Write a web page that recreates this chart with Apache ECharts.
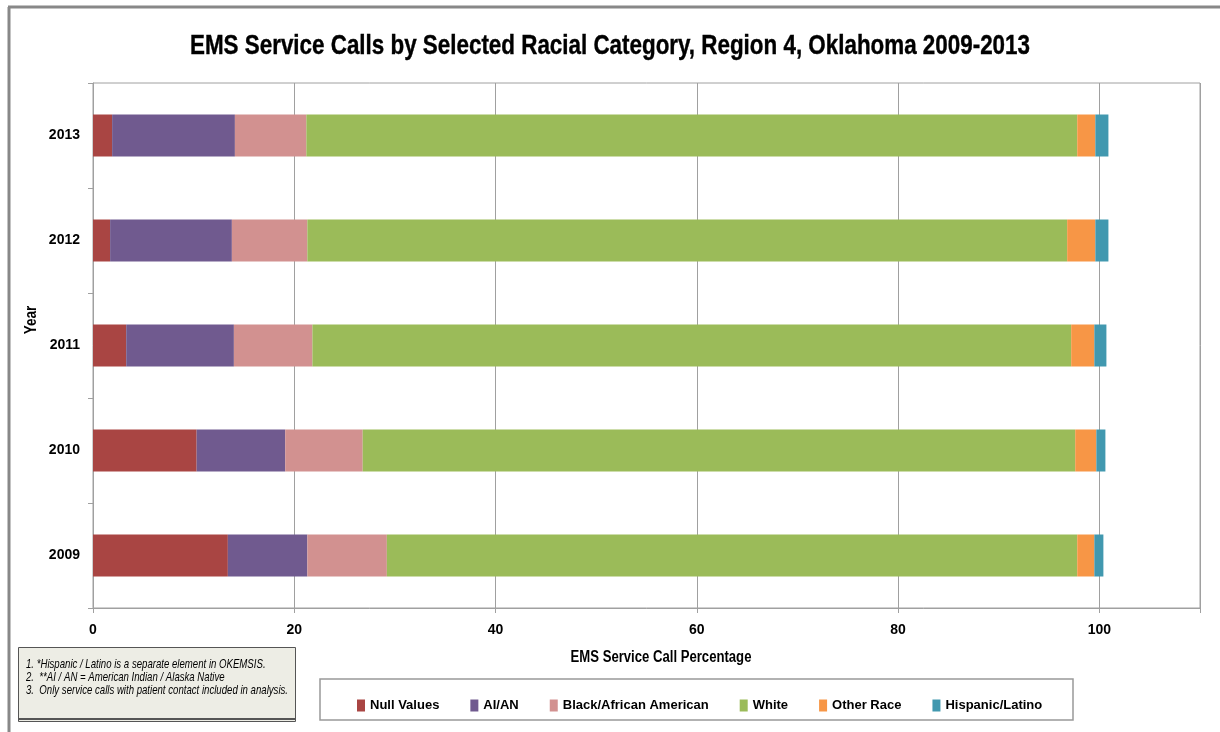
<!DOCTYPE html>
<html><head><meta charset="utf-8">
<script src="https://cdn.jsdelivr.net/npm/echarts@6/dist/echarts.min.js"></script>
<style>html,body{margin:0;padding:0;background:#fff}#c{width:1220px;height:732px}</style>
</head><body><div id="c"></div>
<script>
const years = ['2009','2010','2011','2012','2013'];
const nullValues = [13.4, 10.3, 3.3, 1.7, 1.9];
const aian       = [7.9, 8.8, 10.7, 12.1, 12.2];
const black      = [7.9, 7.7, 7.8, 7.5, 7.1];
const white      = [68.6, 70.8, 75.4, 75.5, 76.6];
const otherRace  = [1.7, 2.1, 2.3, 2.8, 1.8];
const hispanic   = [0.9, 0.9, 1.2, 1.3, 1.3];
const xTicks = [0, 20, 40, 60, 80, 100];
const seriesNames = ['Null Values','AI/AN','Black/African American','White','Other Race','Hispanic/Latino'];
const colors = ['#A94543','#705A8F','#D29190','#9BBB59','#F79646','#4198AF'];
const titleText = 'EMS Service Calls by Selected Racial Category, Region 4, Oklahoma 2009-2013';
const footnotes = ['1. *Hispanic / Latino is a separate element in OKEMSIS.','2.  **AI / AN = American Indian / Alaska Native','3.  Only service calls with patient contact included in analysis.'];

const F = '"Liberation Sans", Arial, sans-serif';
const chart = echarts.init(document.getElementById('c'), null, {renderer:'canvas'});
const dataSets = [nullValues, aian, black, white, otherRace, hispanic];
const series = seriesNames.map((n,i)=>({
  name:n, type:'bar', stack:'total', barWidth:'40%', data:dataSets[i],
  itemStyle:{color:colors[i]}, emphasis:{disabled:true}
}));
chart.setOption({
  animation:false,
  backgroundColor:'#fff',
  color:colors,
  grid:{left:93, right:20, top:83, bottom:124, show:true, borderColor:'#a0a0a0', borderWidth:1, backgroundColor:'transparent'},
  legend:{left:352, top:694, itemWidth:8, itemHeight:12, itemGap:31, icon:'rect',
    textStyle:{fontFamily:F, fontWeight:'bold', fontSize:13, color:'#000'}, data:seriesNames, selectedMode:false},
  xAxis:{type:'value', min:0, max:110, interval:20,
    axisLine:{show:true, lineStyle:{color:'#a0a0a0'}},
    axisTick:{show:true, length:5, lineStyle:{color:'#a0a0a0'}},
    splitLine:{show:true, lineStyle:{color:'#a0a0a0', width:1}},
    axisLabel:{margin:15, fontFamily:F, fontWeight:'bold', fontSize:14, color:'#000',
      formatter:v=> xTicks.indexOf(v)>=0 ? String(v) : ''}},
  yAxis:{type:'category', data:years,
    axisLine:{show:true, lineStyle:{color:'#a0a0a0'}},
    axisTick:{show:true, length:5, alignWithLabel:false, lineStyle:{color:'#a0a0a0'}},
    splitLine:{show:false},
    axisLabel:{margin:13, fontFamily:F, fontWeight:'bold', fontSize:14, color:'#000'}},
  series:series,
  graphic:[
    {type:'line', shape:{x1:8, y1:7, x2:1220, y2:7}, style:{stroke:'#888', lineWidth:3}},
    {type:'line', shape:{x1:9, y1:7, x2:9, y2:732}, style:{stroke:'#888', lineWidth:3}},
    {type:'text', x:610, y:46, scaleX:0.8, style:{text:titleText, align:'center', verticalAlign:'middle', font:'bold 28px '+F, fill:'#000', stroke:'#000', lineWidth:0.4}},
    {type:'text', x:32, y:320, rotation:Math.PI/2, scaleX:0.85, style:{text:'Year', align:'center', verticalAlign:'middle', font:'bold 16px '+F, fill:'#000'}},
    {type:'text', x:661, y:658, scaleX:0.82, style:{text:'EMS Service Call Percentage', align:'center', verticalAlign:'middle', font:'bold 16px '+F, fill:'#000'}},
    {type:'rect', shape:{x:320, y:679, width:753, height:41}, style:{fill:'#fff', stroke:'#999', lineWidth:1.5}, z:-1},
    {type:'rect', shape:{x:18.5, y:647.5, width:277, height:74}, style:{fill:'#EDEDE5', stroke:'#555', lineWidth:1}},
    {type:'line', shape:{x1:18, y1:719, x2:296, y2:719}, style:{stroke:'#555', lineWidth:2}},
    {type:'text', x:26, y:664, scaleX:0.74, style:{text:footnotes[0], verticalAlign:'middle', font:'italic 13px '+F, fill:'#000'}},
    {type:'text', x:26, y:677, scaleX:0.74, style:{text:footnotes[1], verticalAlign:'middle', font:'italic 13px '+F, fill:'#000'}},
    {type:'text', x:26, y:690, scaleX:0.74, style:{text:footnotes[2], verticalAlign:'middle', font:'italic 13px '+F, fill:'#000'}}
  ]
});
</script></body></html>
